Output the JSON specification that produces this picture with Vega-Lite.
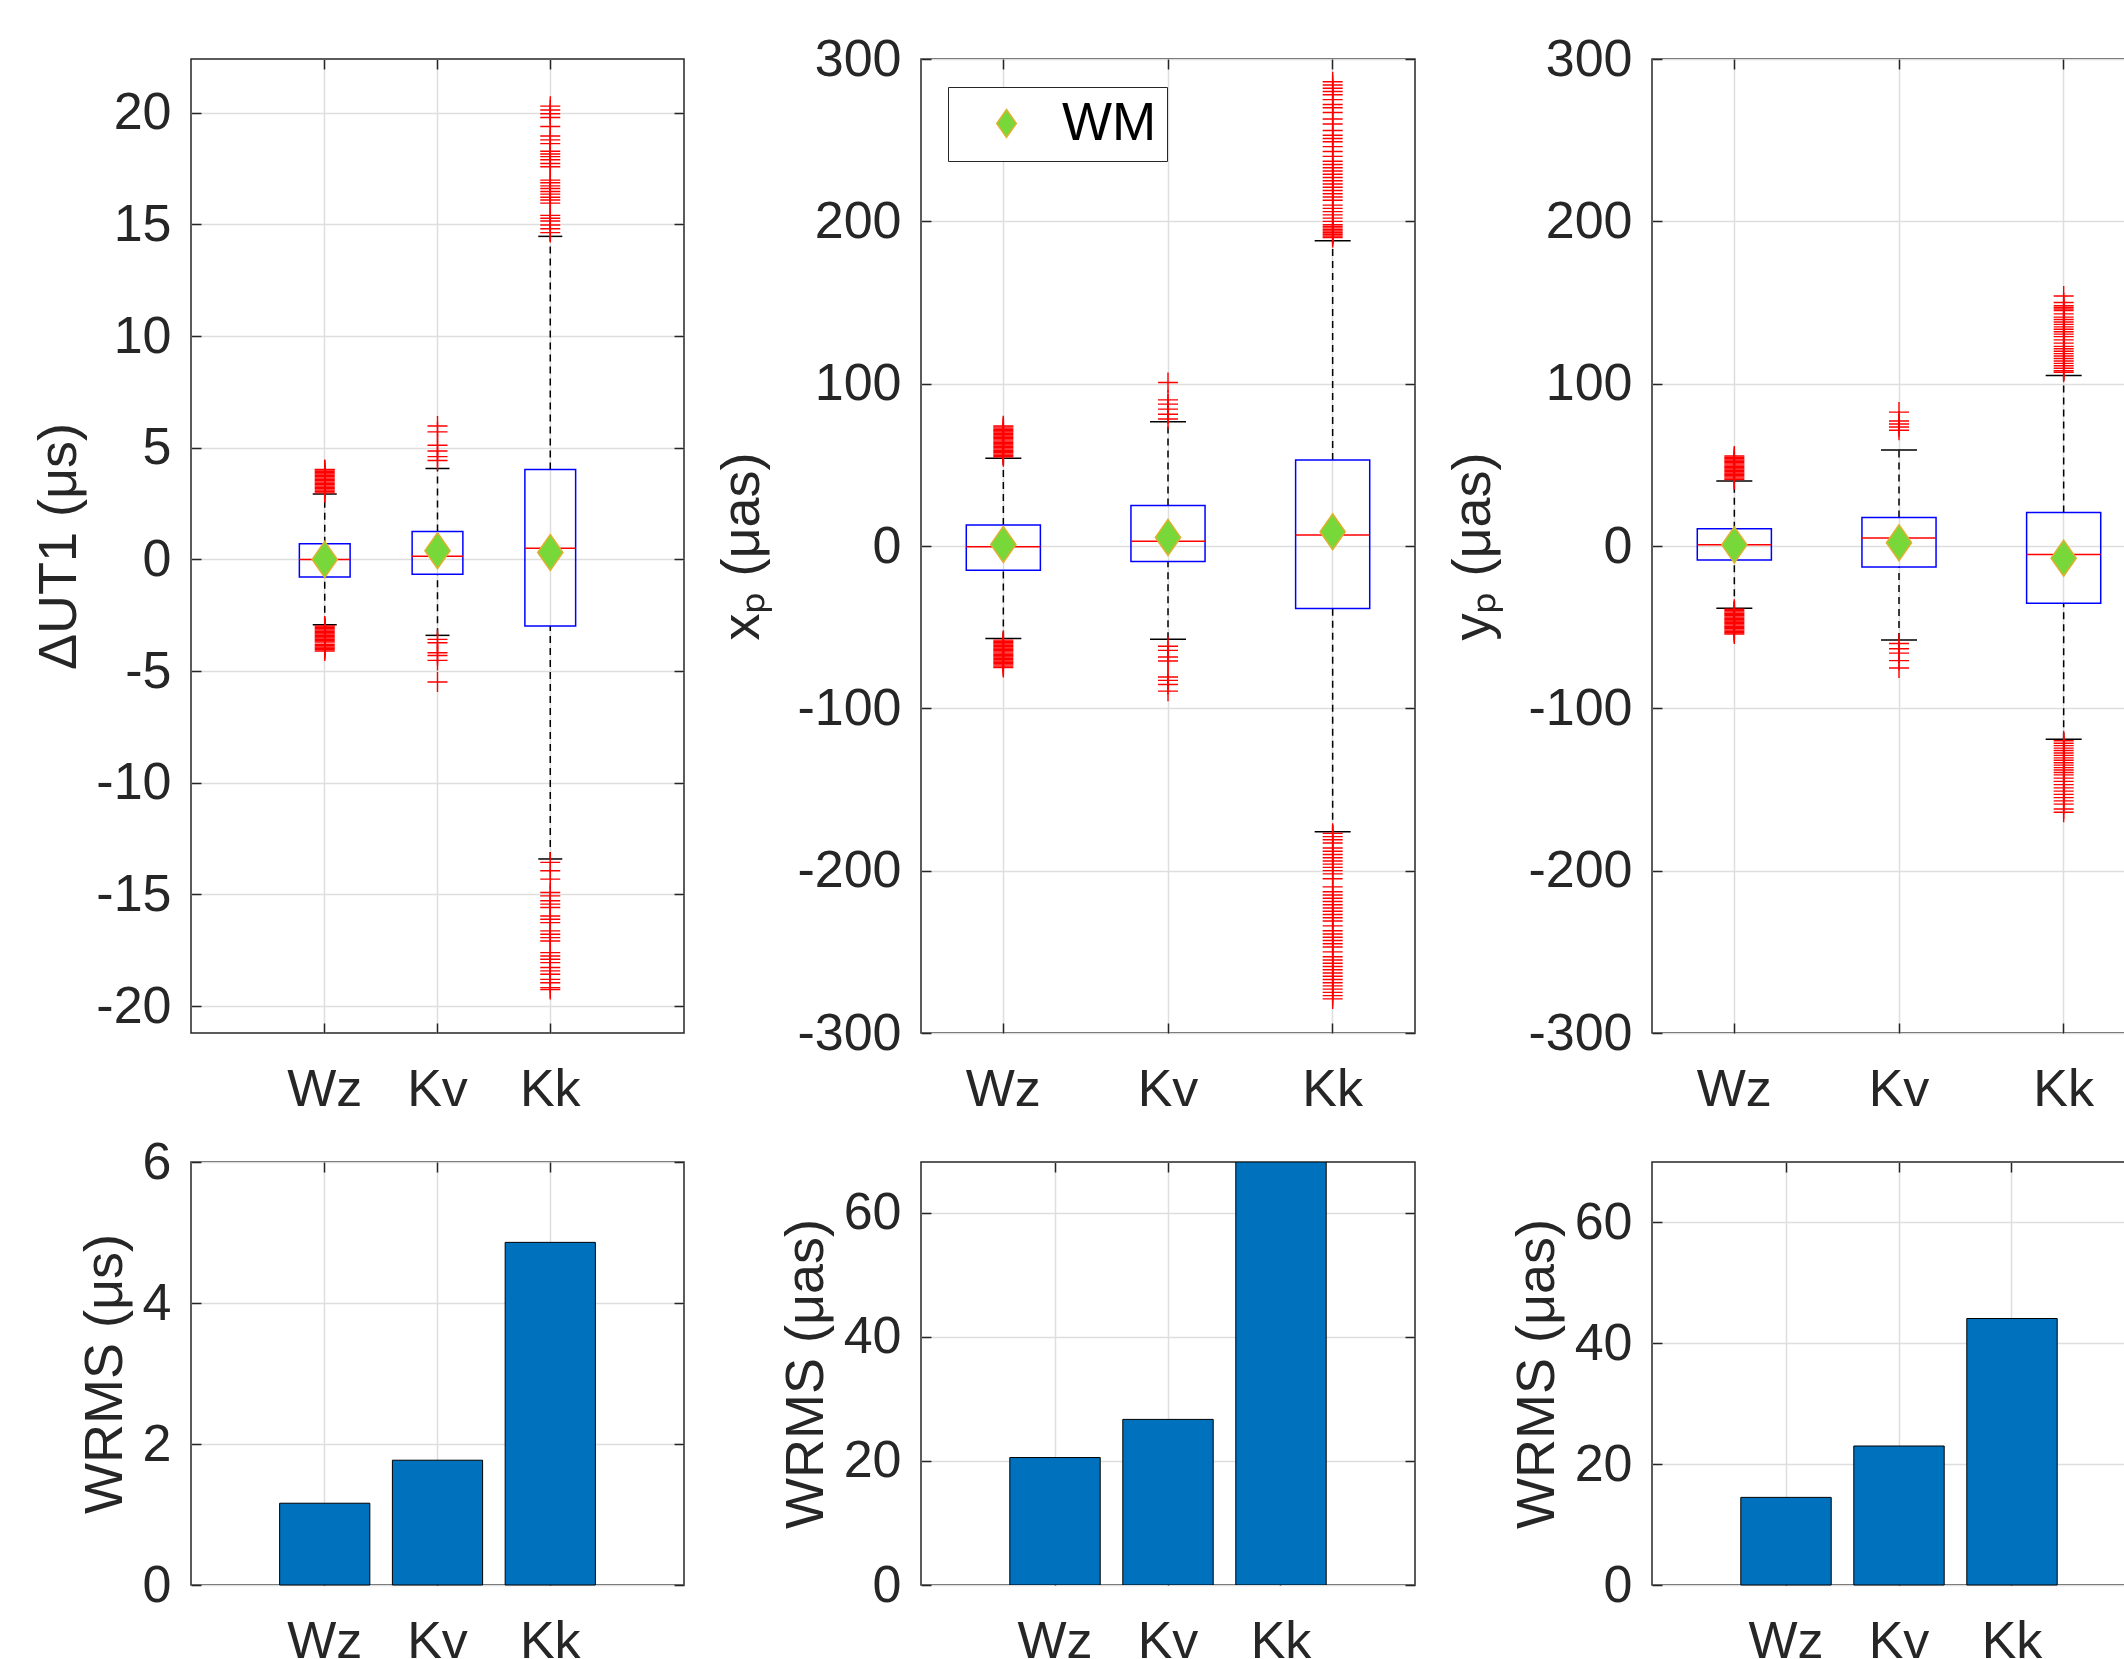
{
"$schema":"https://vega.github.io/schema/vega-lite/v6.json",
"background":"white",
"padding":{"left":32,"top":32,"right":0,"bottom":0},
"config":{
 "font":"Liberation Sans",
 "view":{"stroke":"#262626","strokeWidth":1.5},
 "axis":{"labelFontSize":52,"titleFontSize":54,"labelColor":"#262626","titleColor":"#262626","titleFontWeight":"normal","labelFont":"Liberation Sans","titleFont":"Liberation Sans","gridColor":"#dedede","gridWidth":1.5,"tickColor":"#262626","tickWidth":1.5,"labelOverlap":false,"labelFlush":false}
},
"datasets":{
 "box":[
  {"p":"ut1","c":"Wz","q1":-0.79,"q3":0.70,"med":0.0,"lo":-2.93,"hi":2.93,"wm":0.0},
  {"p":"ut1","c":"Kv","q1":-0.67,"q3":1.25,"med":0.14,"lo":-3.40,"hi":4.07,"wm":0.39},
  {"p":"ut1","c":"Kk","q1":-2.98,"q3":4.03,"med":0.50,"lo":-13.41,"hi":14.46,"wm":0.31},
  {"p":"xp","c":"Wz","q1":-15,"q3":13,"med":-0.5,"lo":-57,"hi":54,"wm":1},
  {"p":"xp","c":"Kv","q1":-9.5,"q3":25,"med":3,"lo":-57.5,"hi":76.5,"wm":5.3},
  {"p":"xp","c":"Kk","q1":-38.5,"q3":53,"med":6.7,"lo":-176,"hi":188,"wm":8.8},
  {"p":"yp","c":"Wz","q1":-8.7,"q3":10.7,"med":0.7,"lo":-38.3,"hi":40.1,"wm":0.7},
  {"p":"yp","c":"Kv","q1":-13,"q3":17.5,"med":5,"lo":-57.9,"hi":59.2,"wm":2},
  {"p":"yp","c":"Kk","q1":-35.3,"q3":20.7,"med":-5.2,"lo":-119.1,"hi":105,"wm":-7.5}
 ],
 "wrms":[
  {"p":"ut1","c":"Wz","v":1.16},{"p":"ut1","c":"Kv","v":1.77},{"p":"ut1","c":"Kk","v":4.86},
  {"p":"xp","c":"Wz","v":20.55},{"p":"xp","c":"Kv","v":26.7},{"p":"xp","c":"Kk","v":68.2},
  {"p":"yp","c":"Wz","v":14.5},{"p":"yp","c":"Kv","v":23.0},{"p":"yp","c":"Kk","v":44.1}
 ],
 "out":[
  {"p":"ut1","c":"Wz","v":2.98},{"p":"ut1","c":"Wz","v":3.04},{"p":"ut1","c":"Wz","v":3.10},{"p":"ut1","c":"Wz","v":3.16},{"p":"ut1","c":"Wz","v":3.22},{"p":"ut1","c":"Wz","v":3.28},{"p":"ut1","c":"Wz","v":3.34},{"p":"ut1","c":"Wz","v":3.40},{"p":"ut1","c":"Wz","v":3.46},{"p":"ut1","c":"Wz","v":3.52},{"p":"ut1","c":"Wz","v":3.58},{"p":"ut1","c":"Wz","v":3.64},{"p":"ut1","c":"Wz","v":3.70},{"p":"ut1","c":"Wz","v":3.76},{"p":"ut1","c":"Wz","v":3.82},{"p":"ut1","c":"Wz","v":3.88},{"p":"ut1","c":"Wz","v":3.94},{"p":"ut1","c":"Wz","v":4.00},{"p":"ut1","c":"Wz","v":4.03},
  {"p":"ut1","c":"Wz","v":-2.98},{"p":"ut1","c":"Wz","v":-3.04},{"p":"ut1","c":"Wz","v":-3.10},{"p":"ut1","c":"Wz","v":-3.16},{"p":"ut1","c":"Wz","v":-3.22},{"p":"ut1","c":"Wz","v":-3.28},{"p":"ut1","c":"Wz","v":-3.34},{"p":"ut1","c":"Wz","v":-3.40},{"p":"ut1","c":"Wz","v":-3.46},{"p":"ut1","c":"Wz","v":-3.52},{"p":"ut1","c":"Wz","v":-3.58},{"p":"ut1","c":"Wz","v":-3.64},{"p":"ut1","c":"Wz","v":-3.70},{"p":"ut1","c":"Wz","v":-3.80},{"p":"ut1","c":"Wz","v":-3.86},{"p":"ut1","c":"Wz","v":-3.92},{"p":"ut1","c":"Wz","v":-3.98},{"p":"ut1","c":"Wz","v":-4.04},{"p":"ut1","c":"Wz","v":-4.10},
  {"p":"ut1","c":"Kv","v":4.43},{"p":"ut1","c":"Kv","v":4.60},{"p":"ut1","c":"Kv","v":4.85},{"p":"ut1","c":"Kv","v":5.11},{"p":"ut1","c":"Kv","v":5.71},{"p":"ut1","c":"Kv","v":5.97},
  {"p":"ut1","c":"Kv","v":-3.58},{"p":"ut1","c":"Kv","v":-3.73},{"p":"ut1","c":"Kv","v":-4.18},{"p":"ut1","c":"Kv","v":-4.30},{"p":"ut1","c":"Kv","v":-4.52},{"p":"ut1","c":"Kv","v":-5.49},
  {"p":"ut1","c":"Kk","v":14.63},{"p":"ut1","c":"Kk","v":14.80},{"p":"ut1","c":"Kk","v":14.97},{"p":"ut1","c":"Kk","v":15.15},{"p":"ut1","c":"Kk","v":15.27},{"p":"ut1","c":"Kk","v":15.40},{"p":"ut1","c":"Kk","v":15.95},{"p":"ut1","c":"Kk","v":16.09},{"p":"ut1","c":"Kk","v":16.21},{"p":"ut1","c":"Kk","v":16.35},{"p":"ut1","c":"Kk","v":16.47},{"p":"ut1","c":"Kk","v":16.60},{"p":"ut1","c":"Kk","v":16.72},{"p":"ut1","c":"Kk","v":16.86},{"p":"ut1","c":"Kk","v":16.98},{"p":"ut1","c":"Kk","v":17.58},{"p":"ut1","c":"Kk","v":17.72},{"p":"ut1","c":"Kk","v":17.89},{"p":"ut1","c":"Kk","v":18.03},{"p":"ut1","c":"Kk","v":18.15},{"p":"ut1","c":"Kk","v":18.27},{"p":"ut1","c":"Kk","v":18.61},{"p":"ut1","c":"Kk","v":18.78},{"p":"ut1","c":"Kk","v":18.95},{"p":"ut1","c":"Kk","v":19.38},{"p":"ut1","c":"Kk","v":19.78},{"p":"ut1","c":"Kk","v":19.95},{"p":"ut1","c":"Kk","v":20.12},{"p":"ut1","c":"Kk","v":20.29},
  {"p":"ut1","c":"Kk","v":-13.56},{"p":"ut1","c":"Kk","v":-13.94},{"p":"ut1","c":"Kk","v":-14.31},{"p":"ut1","c":"Kk","v":-14.91},{"p":"ut1","c":"Kk","v":-15.06},{"p":"ut1","c":"Kk","v":-15.28},{"p":"ut1","c":"Kk","v":-15.43},{"p":"ut1","c":"Kk","v":-15.58},{"p":"ut1","c":"Kk","v":-15.96},{"p":"ut1","c":"Kk","v":-16.11},{"p":"ut1","c":"Kk","v":-16.26},{"p":"ut1","c":"Kk","v":-16.63},{"p":"ut1","c":"Kk","v":-16.78},{"p":"ut1","c":"Kk","v":-16.93},{"p":"ut1","c":"Kk","v":-17.08},{"p":"ut1","c":"Kk","v":-17.60},{"p":"ut1","c":"Kk","v":-17.75},{"p":"ut1","c":"Kk","v":-17.90},{"p":"ut1","c":"Kk","v":-18.05},{"p":"ut1","c":"Kk","v":-18.27},{"p":"ut1","c":"Kk","v":-18.42},{"p":"ut1","c":"Kk","v":-18.57},{"p":"ut1","c":"Kk","v":-18.80},{"p":"ut1","c":"Kk","v":-18.95},{"p":"ut1","c":"Kk","v":-19.17},{"p":"ut1","c":"Kk","v":-19.25},
  {"p":"xp","c":"Wz","v":55},{"p":"xp","c":"Wz","v":55.8},{"p":"xp","c":"Wz","v":56.6},{"p":"xp","c":"Wz","v":57.4},{"p":"xp","c":"Wz","v":58.2},{"p":"xp","c":"Wz","v":59},{"p":"xp","c":"Wz","v":59.8},{"p":"xp","c":"Wz","v":60.6},{"p":"xp","c":"Wz","v":61.4},{"p":"xp","c":"Wz","v":62.2},{"p":"xp","c":"Wz","v":63},{"p":"xp","c":"Wz","v":63.8},{"p":"xp","c":"Wz","v":64.6},{"p":"xp","c":"Wz","v":65.4},{"p":"xp","c":"Wz","v":66.2},{"p":"xp","c":"Wz","v":67},{"p":"xp","c":"Wz","v":67.8},{"p":"xp","c":"Wz","v":68.6},{"p":"xp","c":"Wz","v":69.4},{"p":"xp","c":"Wz","v":70.2},{"p":"xp","c":"Wz","v":71},{"p":"xp","c":"Wz","v":71.8},{"p":"xp","c":"Wz","v":72.6},{"p":"xp","c":"Wz","v":73.4},{"p":"xp","c":"Wz","v":74},
  {"p":"xp","c":"Wz","v":-58},{"p":"xp","c":"Wz","v":-58.8},{"p":"xp","c":"Wz","v":-59.6},{"p":"xp","c":"Wz","v":-60.4},{"p":"xp","c":"Wz","v":-61.2},{"p":"xp","c":"Wz","v":-62},{"p":"xp","c":"Wz","v":-62.8},{"p":"xp","c":"Wz","v":-63.6},{"p":"xp","c":"Wz","v":-64.4},{"p":"xp","c":"Wz","v":-65.2},{"p":"xp","c":"Wz","v":-66},{"p":"xp","c":"Wz","v":-66.8},{"p":"xp","c":"Wz","v":-67.6},{"p":"xp","c":"Wz","v":-68.4},{"p":"xp","c":"Wz","v":-69.2},{"p":"xp","c":"Wz","v":-70},{"p":"xp","c":"Wz","v":-70.8},{"p":"xp","c":"Wz","v":-71.6},{"p":"xp","c":"Wz","v":-72.4},{"p":"xp","c":"Wz","v":-73.2},{"p":"xp","c":"Wz","v":-74},{"p":"xp","c":"Wz","v":-74.8},
  {"p":"xp","c":"Kv","v":78.2},{"p":"xp","c":"Kv","v":81.2},{"p":"xp","c":"Kv","v":84.3},{"p":"xp","c":"Kv","v":87.4},{"p":"xp","c":"Kv","v":90},{"p":"xp","c":"Kv","v":100.7},
  {"p":"xp","c":"Kv","v":-61.8},{"p":"xp","c":"Kv","v":-64.3},{"p":"xp","c":"Kv","v":-68.4},{"p":"xp","c":"Kv","v":-70.8},{"p":"xp","c":"Kv","v":-80.7},{"p":"xp","c":"Kv","v":-82.8},{"p":"xp","c":"Kv","v":-85.3},{"p":"xp","c":"Kv","v":-89.4},
  {"p":"xp","c":"Kk","v":190},{"p":"xp","c":"Kk","v":191},{"p":"xp","c":"Kk","v":192},{"p":"xp","c":"Kk","v":193},{"p":"xp","c":"Kk","v":194},{"p":"xp","c":"Kk","v":195},{"p":"xp","c":"Kk","v":196},{"p":"xp","c":"Kk","v":197},{"p":"xp","c":"Kk","v":198},{"p":"xp","c":"Kk","v":200},{"p":"xp","c":"Kk","v":202},{"p":"xp","c":"Kk","v":204},{"p":"xp","c":"Kk","v":206},{"p":"xp","c":"Kk","v":208},{"p":"xp","c":"Kk","v":210},{"p":"xp","c":"Kk","v":213},{"p":"xp","c":"Kk","v":215},{"p":"xp","c":"Kk","v":217},{"p":"xp","c":"Kk","v":219},{"p":"xp","c":"Kk","v":221},{"p":"xp","c":"Kk","v":223},{"p":"xp","c":"Kk","v":225},{"p":"xp","c":"Kk","v":227},{"p":"xp","c":"Kk","v":229},{"p":"xp","c":"Kk","v":231},{"p":"xp","c":"Kk","v":233},{"p":"xp","c":"Kk","v":235},{"p":"xp","c":"Kk","v":237},{"p":"xp","c":"Kk","v":240},{"p":"xp","c":"Kk","v":243},{"p":"xp","c":"Kk","v":246},{"p":"xp","c":"Kk","v":249},{"p":"xp","c":"Kk","v":251},{"p":"xp","c":"Kk","v":253},{"p":"xp","c":"Kk","v":256},{"p":"xp","c":"Kk","v":260},{"p":"xp","c":"Kk","v":263},{"p":"xp","c":"Kk","v":267},{"p":"xp","c":"Kk","v":270},{"p":"xp","c":"Kk","v":272},{"p":"xp","c":"Kk","v":275},{"p":"xp","c":"Kk","v":278},{"p":"xp","c":"Kk","v":280},{"p":"xp","c":"Kk","v":282},{"p":"xp","c":"Kk","v":284},{"p":"xp","c":"Kk","v":286},
  {"p":"xp","c":"Kk","v":-177},{"p":"xp","c":"Kk","v":-179},{"p":"xp","c":"Kk","v":-181},{"p":"xp","c":"Kk","v":-183},{"p":"xp","c":"Kk","v":-186},{"p":"xp","c":"Kk","v":-188},{"p":"xp","c":"Kk","v":-190},{"p":"xp","c":"Kk","v":-192},{"p":"xp","c":"Kk","v":-194},{"p":"xp","c":"Kk","v":-196},{"p":"xp","c":"Kk","v":-198},{"p":"xp","c":"Kk","v":-200},{"p":"xp","c":"Kk","v":-202},{"p":"xp","c":"Kk","v":-205},{"p":"xp","c":"Kk","v":-210},{"p":"xp","c":"Kk","v":-213},{"p":"xp","c":"Kk","v":-215},{"p":"xp","c":"Kk","v":-217},{"p":"xp","c":"Kk","v":-219},{"p":"xp","c":"Kk","v":-221},{"p":"xp","c":"Kk","v":-223},{"p":"xp","c":"Kk","v":-225},{"p":"xp","c":"Kk","v":-227},{"p":"xp","c":"Kk","v":-229},{"p":"xp","c":"Kk","v":-231},{"p":"xp","c":"Kk","v":-234},{"p":"xp","c":"Kk","v":-237},{"p":"xp","c":"Kk","v":-239},{"p":"xp","c":"Kk","v":-241},{"p":"xp","c":"Kk","v":-243},{"p":"xp","c":"Kk","v":-245},{"p":"xp","c":"Kk","v":-247},{"p":"xp","c":"Kk","v":-250},{"p":"xp","c":"Kk","v":-253},{"p":"xp","c":"Kk","v":-255},{"p":"xp","c":"Kk","v":-257},{"p":"xp","c":"Kk","v":-259},{"p":"xp","c":"Kk","v":-261},{"p":"xp","c":"Kk","v":-263},{"p":"xp","c":"Kk","v":-265},{"p":"xp","c":"Kk","v":-267},{"p":"xp","c":"Kk","v":-269},{"p":"xp","c":"Kk","v":-271},{"p":"xp","c":"Kk","v":-273},{"p":"xp","c":"Kk","v":-275},{"p":"xp","c":"Kk","v":-277},{"p":"xp","c":"Kk","v":-279},
  {"p":"yp","c":"Wz","v":41},{"p":"yp","c":"Wz","v":41.8},{"p":"yp","c":"Wz","v":42.6},{"p":"yp","c":"Wz","v":43.4},{"p":"yp","c":"Wz","v":44.2},{"p":"yp","c":"Wz","v":45},{"p":"yp","c":"Wz","v":45.8},{"p":"yp","c":"Wz","v":46.6},{"p":"yp","c":"Wz","v":47.4},{"p":"yp","c":"Wz","v":48.2},{"p":"yp","c":"Wz","v":49},{"p":"yp","c":"Wz","v":49.8},{"p":"yp","c":"Wz","v":50.6},{"p":"yp","c":"Wz","v":51.4},{"p":"yp","c":"Wz","v":52.2},{"p":"yp","c":"Wz","v":53},{"p":"yp","c":"Wz","v":53.8},{"p":"yp","c":"Wz","v":54.6},{"p":"yp","c":"Wz","v":55.4},
  {"p":"yp","c":"Wz","v":-39},{"p":"yp","c":"Wz","v":-39.8},{"p":"yp","c":"Wz","v":-40.6},{"p":"yp","c":"Wz","v":-41.4},{"p":"yp","c":"Wz","v":-42.2},{"p":"yp","c":"Wz","v":-43},{"p":"yp","c":"Wz","v":-43.8},{"p":"yp","c":"Wz","v":-44.6},{"p":"yp","c":"Wz","v":-45.4},{"p":"yp","c":"Wz","v":-46.2},{"p":"yp","c":"Wz","v":-47},{"p":"yp","c":"Wz","v":-47.8},{"p":"yp","c":"Wz","v":-48.6},{"p":"yp","c":"Wz","v":-49.4},{"p":"yp","c":"Wz","v":-50.2},{"p":"yp","c":"Wz","v":-51},{"p":"yp","c":"Wz","v":-51.8},{"p":"yp","c":"Wz","v":-52.6},{"p":"yp","c":"Wz","v":-53.4},{"p":"yp","c":"Wz","v":-54.2},
  {"p":"yp","c":"Kv","v":71.3},{"p":"yp","c":"Kv","v":73.3},{"p":"yp","c":"Kv","v":75.2},{"p":"yp","c":"Kv","v":77},{"p":"yp","c":"Kv","v":82.5},
  {"p":"yp","c":"Kv","v":-60.1},{"p":"yp","c":"Kv","v":-63.3},{"p":"yp","c":"Kv","v":-66},{"p":"yp","c":"Kv","v":-70.6},{"p":"yp","c":"Kv","v":-75.2},
  {"p":"yp","c":"Kk","v":107},{"p":"yp","c":"Kk","v":108},{"p":"yp","c":"Kk","v":109.5},{"p":"yp","c":"Kk","v":111},{"p":"yp","c":"Kk","v":112.5},{"p":"yp","c":"Kk","v":114},{"p":"yp","c":"Kk","v":115.5},{"p":"yp","c":"Kk","v":117},{"p":"yp","c":"Kk","v":118.5},{"p":"yp","c":"Kk","v":120},{"p":"yp","c":"Kk","v":121.5},{"p":"yp","c":"Kk","v":123},{"p":"yp","c":"Kk","v":125},{"p":"yp","c":"Kk","v":127},{"p":"yp","c":"Kk","v":129},{"p":"yp","c":"Kk","v":130.5},{"p":"yp","c":"Kk","v":132},{"p":"yp","c":"Kk","v":133.5},{"p":"yp","c":"Kk","v":135},{"p":"yp","c":"Kk","v":136.5},{"p":"yp","c":"Kk","v":138},{"p":"yp","c":"Kk","v":139.5},{"p":"yp","c":"Kk","v":141},{"p":"yp","c":"Kk","v":143},{"p":"yp","c":"Kk","v":145},{"p":"yp","c":"Kk","v":146},{"p":"yp","c":"Kk","v":147},{"p":"yp","c":"Kk","v":148},{"p":"yp","c":"Kk","v":150},{"p":"yp","c":"Kk","v":154},
  {"p":"yp","c":"Kk","v":-120},{"p":"yp","c":"Kk","v":-121.5},{"p":"yp","c":"Kk","v":-123},{"p":"yp","c":"Kk","v":-124.5},{"p":"yp","c":"Kk","v":-126},{"p":"yp","c":"Kk","v":-127.5},{"p":"yp","c":"Kk","v":-129},{"p":"yp","c":"Kk","v":-130.5},{"p":"yp","c":"Kk","v":-132},{"p":"yp","c":"Kk","v":-133.5},{"p":"yp","c":"Kk","v":-135},{"p":"yp","c":"Kk","v":-136.5},{"p":"yp","c":"Kk","v":-138},{"p":"yp","c":"Kk","v":-139.5},{"p":"yp","c":"Kk","v":-141},{"p":"yp","c":"Kk","v":-143},{"p":"yp","c":"Kk","v":-145},{"p":"yp","c":"Kk","v":-147},{"p":"yp","c":"Kk","v":-149},{"p":"yp","c":"Kk","v":-151},{"p":"yp","c":"Kk","v":-153},{"p":"yp","c":"Kk","v":-155},{"p":"yp","c":"Kk","v":-157},{"p":"yp","c":"Kk","v":-159},{"p":"yp","c":"Kk","v":-162},{"p":"yp","c":"Kk","v":-164}
 ]
},
"columns":3,
"bounds":"flush",
"spacing":{"row":129,"column":237},
"resolve":{"scale":{"color":"independent"},"legend":{"color":"independent"}},
"concat":[
 {"width":493,"height":974,
  "resolve":{"axis":{"x":"independent","y":"independent"}},
  "layer":[
   {"data":{"name":"box"},"transform":[{"filter":"datum.p=='ut1'"}],
    "mark":{"type":"rule","color":"#000000","strokeWidth":1.5,"strokeDash":[7,5]},
    "encoding":{"x":{"field":"c","type":"nominal","scale":{"type":"band","domain":["Wz","Kv","Kk"],"paddingInner":0,"paddingOuter":0.686},"axis":{"orient":"top","labels":false,"title":null,"grid":false,"tickSize":-10,"bandPosition":0.5,"domain":false}},
     "y":{"field":"q3","type":"quantitative","scale":{"domain":[-21.2,22.4],"nice":false,"zero":false},"axis":{"orient":"right","labels":false,"title":null,"grid":false,"tickSize":-10,"values":[-20,-15,-10,-5,0,5,10,15,20],"domain":false}},
     "y2":{"field":"hi"}}},
   {"data":{"name":"box"},"transform":[{"filter":"datum.p=='ut1'"}],
    "mark":{"type":"rule","color":"#000000","strokeWidth":1.5,"strokeDash":[7,5]},
    "encoding":{"x":{"field":"c","type":"nominal","scale":{"type":"band","domain":["Wz","Kv","Kk"],"paddingInner":0,"paddingOuter":0.686},"axis":null},
     "y":{"field":"lo","type":"quantitative","scale":{"domain":[-21.2,22.4],"nice":false,"zero":false},"axis":null},
     "y2":{"field":"q1"}}},
   {"data":{"name":"box"},"transform":[{"filter":"datum.p=='ut1'"}],
    "mark":{"type":"tick","orient":"horizontal","size":24,"thickness":1.5,"color":"#000000","opacity":1},
    "encoding":{"x":{"field":"c","type":"nominal","scale":{"type":"band","domain":["Wz","Kv","Kk"],"paddingInner":0,"paddingOuter":0.686},"axis":null},
     "y":{"field":"hi","type":"quantitative","scale":{"domain":[-21.2,22.4],"nice":false,"zero":false},"axis":null}}},
   {"data":{"name":"box"},"transform":[{"filter":"datum.p=='ut1'"}],
    "mark":{"type":"tick","orient":"horizontal","size":24,"thickness":1.5,"color":"#000000","opacity":1},
    "encoding":{"x":{"field":"c","type":"nominal","scale":{"type":"band","domain":["Wz","Kv","Kk"],"paddingInner":0,"paddingOuter":0.686},"axis":null},
     "y":{"field":"lo","type":"quantitative","scale":{"domain":[-21.2,22.4],"nice":false,"zero":false},"axis":null}}},
   {"data":{"name":"box"},"transform":[{"filter":"datum.p=='ut1'"}],
    "mark":{"type":"bar","width":{"band":0.45},"filled":false,"color":"#0000ff","strokeWidth":1.5,"opacity":1},
    "encoding":{"x":{"field":"c","type":"nominal","scale":{"type":"band","domain":["Wz","Kv","Kk"],"paddingInner":0,"paddingOuter":0.686},"axis":{"title":null,"labelPadding":41,"tickSize":-10,"grid":true,"bandPosition":0.5,"labelAngle":0,"domain":false}},
     "y":{"field":"q1","type":"quantitative","scale":{"domain":[-21.2,22.4],"nice":false,"zero":false},"axis":{"title":"ΔUT1 (μs)","values":[-20,-15,-10,-5,0,5,10,15,20],"labelPadding":30,"tickSize":-10,"titlePadding":9,"grid":true,"domain":false,"labelExpr":"''+datum.value"}},
     "y2":{"field":"q3"}}},
   {"data":{"name":"box"},"transform":[{"filter":"datum.p=='ut1'"}],
    "mark":{"type":"tick","orient":"horizontal","size":51,"thickness":1.5,"color":"#ff0000","opacity":1},
    "encoding":{"x":{"field":"c","type":"nominal","scale":{"type":"band","domain":["Wz","Kv","Kk"],"paddingInner":0,"paddingOuter":0.686},"axis":null},
     "y":{"field":"med","type":"quantitative","scale":{"domain":[-21.2,22.4],"nice":false,"zero":false},"axis":null}}},
   {"data":{"name":"out"},"transform":[{"filter":"datum.p=='ut1'"}],
    "mark":{"type":"point","shape":"M-1,0L1,0M0,-1L0,1","filled":false,"color":"#ff0000","strokeWidth":1.4,"size":400,"opacity":1},
    "encoding":{"x":{"field":"c","type":"nominal","scale":{"type":"band","domain":["Wz","Kv","Kk"],"paddingInner":0,"paddingOuter":0.686},"axis":null},
     "y":{"field":"v","type":"quantitative","scale":{"domain":[-21.2,22.4],"nice":false,"zero":false},"axis":null}}},
   {"data":{"name":"box"},"transform":[{"filter":"datum.p=='ut1'"}],
    "mark":{"type":"point","shape":"M0,-1L0.7,0L0,1L-0.7,0Z","filled":true,"fill":"#78D83A","stroke":"#E0B030","strokeWidth":1.5,"size":1296,"opacity":1},
    "encoding":{"x":{"field":"c","type":"nominal","scale":{"type":"band","domain":["Wz","Kv","Kk"],"paddingInner":0,"paddingOuter":0.686},"axis":null},
     "y":{"field":"wm","type":"quantitative","scale":{"domain":[-21.2,22.4],"nice":false,"zero":false},"axis":null}}}
  ]},
 {"width":494,"height":974,
  "resolve":{"axis":{"x":"independent","y":"independent"}},
  "layer":[
   {"data":{"name":"box"},"transform":[{"filter":"datum.p=='xp'"}],
    "mark":{"type":"rule","color":"#000000","strokeWidth":1.5,"strokeDash":[7,5]},
    "encoding":{"x":{"field":"c","type":"nominal","scale":{"type":"band","domain":["Wz","Kv","Kk"],"paddingInner":0,"paddingOuter":0},"axis":{"orient":"top","labels":false,"title":null,"grid":false,"tickSize":-10,"bandPosition":0.5,"domain":false}},
     "y":{"field":"q3","type":"quantitative","scale":{"domain":[-300,300],"nice":false,"zero":false},"axis":{"orient":"right","labels":false,"title":null,"grid":false,"tickSize":-10,"values":[-300,-200,-100,0,100,200,300],"domain":false}},
     "y2":{"field":"hi"}}},
   {"data":{"name":"box"},"transform":[{"filter":"datum.p=='xp'"}],
    "mark":{"type":"rule","color":"#000000","strokeWidth":1.5,"strokeDash":[7,5]},
    "encoding":{"x":{"field":"c","type":"nominal","scale":{"type":"band","domain":["Wz","Kv","Kk"],"paddingInner":0,"paddingOuter":0},"axis":null},
     "y":{"field":"lo","type":"quantitative","scale":{"domain":[-300,300],"nice":false,"zero":false},"axis":null},
     "y2":{"field":"q1"}}},
   {"data":{"name":"box"},"transform":[{"filter":"datum.p=='xp'"}],
    "mark":{"type":"tick","orient":"horizontal","size":36,"thickness":1.5,"color":"#000000","opacity":1},
    "encoding":{"x":{"field":"c","type":"nominal","scale":{"type":"band","domain":["Wz","Kv","Kk"],"paddingInner":0,"paddingOuter":0},"axis":null},
     "y":{"field":"hi","type":"quantitative","scale":{"domain":[-300,300],"nice":false,"zero":false},"axis":null}}},
   {"data":{"name":"box"},"transform":[{"filter":"datum.p=='xp'"}],
    "mark":{"type":"tick","orient":"horizontal","size":36,"thickness":1.5,"color":"#000000","opacity":1},
    "encoding":{"x":{"field":"c","type":"nominal","scale":{"type":"band","domain":["Wz","Kv","Kk"],"paddingInner":0,"paddingOuter":0},"axis":null},
     "y":{"field":"lo","type":"quantitative","scale":{"domain":[-300,300],"nice":false,"zero":false},"axis":null}}},
   {"data":{"name":"box"},"transform":[{"filter":"datum.p=='xp'"}],
    "mark":{"type":"bar","width":{"band":0.45},"filled":false,"color":"#0000ff","strokeWidth":1.5,"opacity":1},
    "encoding":{"x":{"field":"c","type":"nominal","scale":{"type":"band","domain":["Wz","Kv","Kk"],"paddingInner":0,"paddingOuter":0},"axis":{"title":null,"labelPadding":41,"tickSize":-10,"grid":true,"bandPosition":0.5,"labelAngle":0,"domain":false}},
     "y":{"field":"q1","type":"quantitative","scale":{"domain":[-300,300],"nice":false,"zero":false},"axis":{"title":"xₚ (μas)","values":[-300,-200,-100,0,100,200,300],"labelPadding":30,"tickSize":-10,"titlePadding":27,"grid":true,"domain":false,"labelExpr":"''+datum.value"}},
     "y2":{"field":"q3"}}},
   {"data":{"name":"box"},"transform":[{"filter":"datum.p=='xp'"}],
    "mark":{"type":"tick","orient":"horizontal","size":74,"thickness":1.5,"color":"#ff0000","opacity":1},
    "encoding":{"x":{"field":"c","type":"nominal","scale":{"type":"band","domain":["Wz","Kv","Kk"],"paddingInner":0,"paddingOuter":0},"axis":null},
     "y":{"field":"med","type":"quantitative","scale":{"domain":[-300,300],"nice":false,"zero":false},"axis":null}}},
   {"data":{"name":"out"},"transform":[{"filter":"datum.p=='xp'"}],
    "mark":{"type":"point","shape":"M-1,0L1,0M0,-1L0,1","filled":false,"color":"#ff0000","strokeWidth":1.4,"size":400,"opacity":1},
    "encoding":{"x":{"field":"c","type":"nominal","scale":{"type":"band","domain":["Wz","Kv","Kk"],"paddingInner":0,"paddingOuter":0},"axis":null},
     "y":{"field":"v","type":"quantitative","scale":{"domain":[-300,300],"nice":false,"zero":false},"axis":null}}},
   {"data":{"name":"box"},"transform":[{"filter":"datum.p=='xp'"}],
    "mark":{"type":"point","shape":"M0,-1L0.7,0L0,1L-0.7,0Z","filled":true,"stroke":"#E0B030","strokeWidth":1.5,"size":1296,"opacity":1},
    "encoding":{"x":{"field":"c","type":"nominal","scale":{"type":"band","domain":["Wz","Kv","Kk"],"paddingInner":0,"paddingOuter":0},"axis":null},
     "y":{"field":"wm","type":"quantitative","scale":{"domain":[-300,300],"nice":false,"zero":false},"axis":null},
     "color":{"datum":"WM","type":"nominal","scale":{"range":["#78D83A"]},
      "legend":{"orient":"none","legendX":27,"legendY":28,"title":null,"symbolType":"M0,-1L0.7,0L0,1L-0.7,0Z","symbolSize":784,"symbolStrokeColor":"#E0B030","symbolStrokeWidth":1.5,"symbolOpacity":1,"symbolOffset":22,"labelOffset":29,"labelFontSize":53,"labelFont":"Liberation Sans","labelColor":"#000000","padding":10,"strokeColor":"#262626","fillColor":"#ffffff","cornerRadius":0}}}}
  ]},
 {"width":494,"height":974,
  "resolve":{"axis":{"x":"independent","y":"independent"}},
  "layer":[
   {"data":{"name":"box"},"transform":[{"filter":"datum.p=='yp'"}],
    "mark":{"type":"rule","color":"#000000","strokeWidth":1.5,"strokeDash":[7,5]},
    "encoding":{"x":{"field":"c","type":"nominal","scale":{"type":"band","domain":["Wz","Kv","Kk"],"paddingInner":0,"paddingOuter":0},"axis":{"orient":"top","labels":false,"title":null,"grid":false,"tickSize":-10,"bandPosition":0.5,"domain":false}},
     "y":{"field":"q3","type":"quantitative","scale":{"domain":[-300,300],"nice":false,"zero":false},"axis":{"orient":"right","labels":false,"title":null,"grid":false,"tickSize":-10,"values":[-300,-200,-100,0,100,200,300],"domain":false}},
     "y2":{"field":"hi"}}},
   {"data":{"name":"box"},"transform":[{"filter":"datum.p=='yp'"}],
    "mark":{"type":"rule","color":"#000000","strokeWidth":1.5,"strokeDash":[7,5]},
    "encoding":{"x":{"field":"c","type":"nominal","scale":{"type":"band","domain":["Wz","Kv","Kk"],"paddingInner":0,"paddingOuter":0},"axis":null},
     "y":{"field":"lo","type":"quantitative","scale":{"domain":[-300,300],"nice":false,"zero":false},"axis":null},
     "y2":{"field":"q1"}}},
   {"data":{"name":"box"},"transform":[{"filter":"datum.p=='yp'"}],
    "mark":{"type":"tick","orient":"horizontal","size":36,"thickness":1.5,"color":"#000000","opacity":1},
    "encoding":{"x":{"field":"c","type":"nominal","scale":{"type":"band","domain":["Wz","Kv","Kk"],"paddingInner":0,"paddingOuter":0},"axis":null},
     "y":{"field":"hi","type":"quantitative","scale":{"domain":[-300,300],"nice":false,"zero":false},"axis":null}}},
   {"data":{"name":"box"},"transform":[{"filter":"datum.p=='yp'"}],
    "mark":{"type":"tick","orient":"horizontal","size":36,"thickness":1.5,"color":"#000000","opacity":1},
    "encoding":{"x":{"field":"c","type":"nominal","scale":{"type":"band","domain":["Wz","Kv","Kk"],"paddingInner":0,"paddingOuter":0},"axis":null},
     "y":{"field":"lo","type":"quantitative","scale":{"domain":[-300,300],"nice":false,"zero":false},"axis":null}}},
   {"data":{"name":"box"},"transform":[{"filter":"datum.p=='yp'"}],
    "mark":{"type":"bar","width":{"band":0.45},"filled":false,"color":"#0000ff","strokeWidth":1.5,"opacity":1},
    "encoding":{"x":{"field":"c","type":"nominal","scale":{"type":"band","domain":["Wz","Kv","Kk"],"paddingInner":0,"paddingOuter":0},"axis":{"title":null,"labelPadding":41,"tickSize":-10,"grid":true,"bandPosition":0.5,"labelAngle":0,"domain":false}},
     "y":{"field":"q1","type":"quantitative","scale":{"domain":[-300,300],"nice":false,"zero":false},"axis":{"title":"yₚ (μas)","values":[-300,-200,-100,0,100,200,300],"labelPadding":30,"tickSize":-10,"titlePadding":27,"grid":true,"domain":false,"labelExpr":"''+datum.value"}},
     "y2":{"field":"q3"}}},
   {"data":{"name":"box"},"transform":[{"filter":"datum.p=='yp'"}],
    "mark":{"type":"tick","orient":"horizontal","size":74,"thickness":1.5,"color":"#ff0000","opacity":1},
    "encoding":{"x":{"field":"c","type":"nominal","scale":{"type":"band","domain":["Wz","Kv","Kk"],"paddingInner":0,"paddingOuter":0},"axis":null},
     "y":{"field":"med","type":"quantitative","scale":{"domain":[-300,300],"nice":false,"zero":false},"axis":null}}},
   {"data":{"name":"out"},"transform":[{"filter":"datum.p=='yp'"}],
    "mark":{"type":"point","shape":"M-1,0L1,0M0,-1L0,1","filled":false,"color":"#ff0000","strokeWidth":1.4,"size":400,"opacity":1},
    "encoding":{"x":{"field":"c","type":"nominal","scale":{"type":"band","domain":["Wz","Kv","Kk"],"paddingInner":0,"paddingOuter":0},"axis":null},
     "y":{"field":"v","type":"quantitative","scale":{"domain":[-300,300],"nice":false,"zero":false},"axis":null}}},
   {"data":{"name":"box"},"transform":[{"filter":"datum.p=='yp'"}],
    "mark":{"type":"point","shape":"M0,-1L0.7,0L0,1L-0.7,0Z","filled":true,"fill":"#78D83A","stroke":"#E0B030","strokeWidth":1.5,"size":1296,"opacity":1},
    "encoding":{"x":{"field":"c","type":"nominal","scale":{"type":"band","domain":["Wz","Kv","Kk"],"paddingInner":0,"paddingOuter":0},"axis":null},
     "y":{"field":"wm","type":"quantitative","scale":{"domain":[-300,300],"nice":false,"zero":false},"axis":null}}}
  ]},
 {"width":493,"height":423,
  "data":{"name":"wrms"},"transform":[{"filter":"datum.p=='ut1'"}],
  "resolve":{"axis":{"x":"independent","y":"independent"}},
  "layer":[
   {"mark":{"type":"bar","width":{"band":0.8},"color":"#0072BD","stroke":"#000000","strokeWidth":1,"opacity":1},
    "encoding":{"x":{"field":"c","type":"nominal","scale":{"type":"band","domain":["Wz","Kv","Kk"],"paddingInner":0,"paddingOuter":0.686},"axis":{"title":null,"labelPadding":41,"tickSize":-10,"grid":true,"bandPosition":0.5,"labelAngle":0,"domain":false}},
     "y":{"field":"v","type":"quantitative","scale":{"domain":[0,6],"nice":false,"zero":true},"axis":{"title":"WRMS (μs)","values":[0,2,4,6],"labelPadding":30,"tickSize":-10,"titlePadding":10,"grid":true,"domain":false,"labelExpr":"''+datum.value"}}}},
   {"mark":{"type":"bar","width":{"band":0.8},"opacity":0},
    "encoding":{"x":{"field":"c","type":"nominal","scale":{"type":"band","domain":["Wz","Kv","Kk"],"paddingInner":0,"paddingOuter":0.686},"axis":{"orient":"top","labels":false,"title":null,"grid":false,"tickSize":-10,"bandPosition":0.5,"domain":false}},
     "y":{"field":"v","type":"quantitative","scale":{"domain":[0,6],"nice":false,"zero":true},"axis":{"orient":"right","labels":false,"title":null,"grid":false,"tickSize":-10,"values":[0,2,4,6],"domain":false}}}}
  ]},
 {"width":494,"height":423,
  "data":{"name":"wrms"},"transform":[{"filter":"datum.p=='xp'"}],
  "resolve":{"axis":{"x":"independent","y":"independent"}},
  "layer":[
   {"mark":{"type":"bar","width":{"band":0.8},"color":"#0072BD","stroke":"#000000","strokeWidth":1,"opacity":1,"clip":true},
    "encoding":{"x":{"field":"c","type":"nominal","scale":{"type":"band","domain":["Wz","Kv","Kk"],"paddingInner":0,"paddingOuter":0.686},"axis":{"title":null,"labelPadding":41,"tickSize":-10,"grid":true,"bandPosition":0.5,"labelAngle":0,"domain":false}},
     "y":{"field":"v","type":"quantitative","scale":{"domain":[0,68.2],"nice":false,"zero":true},"axis":{"title":"WRMS (μas)","values":[0,20,40,60],"labelPadding":30,"tickSize":-10,"titlePadding":10,"grid":true,"domain":false,"labelExpr":"''+datum.value"}}}},
   {"mark":{"type":"bar","width":{"band":0.8},"opacity":0},
    "encoding":{"x":{"field":"c","type":"nominal","scale":{"type":"band","domain":["Wz","Kv","Kk"],"paddingInner":0,"paddingOuter":0.686},"axis":{"orient":"top","labels":false,"title":null,"grid":false,"tickSize":-10,"bandPosition":0.5,"domain":false}},
     "y":{"field":"v","type":"quantitative","scale":{"domain":[0,68.2],"nice":false,"zero":true},"axis":{"orient":"right","labels":false,"title":null,"grid":false,"tickSize":-10,"values":[0,20,40,60],"domain":false}}}}
  ]},
 {"width":494,"height":423,
  "data":{"name":"wrms"},"transform":[{"filter":"datum.p=='yp'"}],
  "resolve":{"axis":{"x":"independent","y":"independent"}},
  "layer":[
   {"mark":{"type":"bar","width":{"band":0.8},"color":"#0072BD","stroke":"#000000","strokeWidth":1,"opacity":1},
    "encoding":{"x":{"field":"c","type":"nominal","scale":{"type":"band","domain":["Wz","Kv","Kk"],"paddingInner":0,"paddingOuter":0.686},"axis":{"title":null,"labelPadding":41,"tickSize":-10,"grid":true,"bandPosition":0.5,"labelAngle":0,"domain":false}},
     "y":{"field":"v","type":"quantitative","scale":{"domain":[0,70],"nice":false,"zero":true},"axis":{"title":"WRMS (μas)","values":[0,20,40,60],"labelPadding":30,"tickSize":-10,"titlePadding":10,"grid":true,"domain":false,"labelExpr":"''+datum.value"}}}},
   {"mark":{"type":"bar","width":{"band":0.8},"opacity":0},
    "encoding":{"x":{"field":"c","type":"nominal","scale":{"type":"band","domain":["Wz","Kv","Kk"],"paddingInner":0,"paddingOuter":0.686},"axis":{"orient":"top","labels":false,"title":null,"grid":false,"tickSize":-10,"bandPosition":0.5,"domain":false}},
     "y":{"field":"v","type":"quantitative","scale":{"domain":[0,70],"nice":false,"zero":true},"axis":{"orient":"right","labels":false,"title":null,"grid":false,"tickSize":-10,"values":[0,20,40,60],"domain":false}}}}
  ]}
]
}
